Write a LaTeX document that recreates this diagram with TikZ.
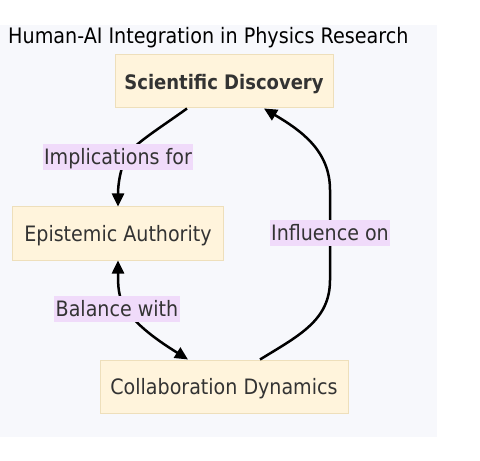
\documentclass[tikz,border=0pt]{standalone}
\usepackage{fontspec}
\setmainfont{DejaVu Sans Condensed}
\usetikzlibrary{arrows.meta}
\definecolor{panel}{HTML}{F7F8FC}
\definecolor{boxfill}{HTML}{FFF4DC}
\definecolor{boxline}{HTML}{EEDFBB}
\definecolor{lblfill}{HTML}{F0DBFA}
\definecolor{txt}{HTML}{333333}
\tikzset{
  box/.style={draw=boxline, fill=boxfill, line width=1bp, text=txt, inner sep=0pt, text height=15.5bp, text depth=0pt, font=\fontsize{21.2bp}{24bp}\selectfont},
  lbl/.style={fill=lblfill, text=txt, inner xsep=1.5bp, inner ysep=0pt, minimum height=26bp, text height=15.5bp, text depth=0pt, font=\fontsize{21.2bp}{24bp}\selectfont},
  conn/.style={line width=2.5bp, black, -{Triangle[length=13bp,width=12bp]}},
  conn2/.style={line width=2.5bp, black, {Triangle[length=13bp,width=12bp]}-{Triangle[length=13bp,width=12bp]}}
}
\begin{document}
\begin{tikzpicture}[x=1bp,y=-1bp]
\useasboundingbox (0,0) rectangle (480,461);
\fill[panel] (0,25) rectangle (437,437);
\node[anchor=base west, text=black, font=\fontsize{21.3bp}{24bp}\selectfont, inner sep=0pt] (title) at (8,44) {Human-AI Integration in Physics Research};
\node[box, minimum width=218bp, minimum height=53bp, font=\fontsize{20bp}{24bp}\selectfont\bfseries] (sd) at (224,81.5) {Scientific Discovery};
\node[box, minimum width=210bp, minimum height=53bp] (ea) at (118,233.5) {Epistemic Authority};
\node[box, minimum width=248bp, minimum height=53bp] (cd) at (224,386.5) {Collaboration Dynamics};
\coordinate (l1) at (126,157);
\coordinate (l2) at (126,309);
\coordinate (l3) at (330,233);
\draw[conn] ([xshift=-37bp]sd.south) .. controls (160,128) and (132,145) .. (l1) .. controls (120,170) and (118,185) .. (ea.north);
\draw[conn2] (ea.south) .. controls (118,285) and (118,298) .. (l2) .. controls (138,328) and (165,345) .. ([xshift=-36bp]cd.north);
\draw[conn] ([xshift=36bp]cd.north) .. controls (300,335) and (330,320) .. (330,280) -- (l3) -- (330,190) .. controls (330,150) and (300,130) .. ([xshift=40bp]sd.south);
\node[lbl] (t1) at (118,157) {Implications for};
\node[lbl] (t2) at (117,309) {Balance with};
\node[lbl] (t3) at (330,233) {Influence on};
\end{tikzpicture}
\end{document}
